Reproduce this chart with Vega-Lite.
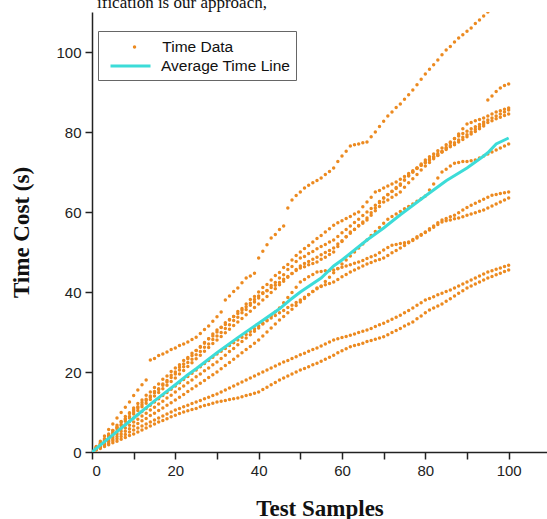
{
"$schema": "https://vega.github.io/schema/vega-lite/v6.json",
"autosize": {"type": "none"},
"width": 455,
"height": 440,
"padding": {"left": 92, "top": 12, "right": 0, "bottom": 67},
"background": "white",
"title": {"text": "ification is our approach,", "anchor": "start", "frame": "group", "orient": "top", "offset": 4, "dx": 5, "dy": 17, "font": "Liberation Serif", "fontSize": 17, "fontWeight": "normal", "color": "#111", "baseline": "alphabetic"},
"config": {
  "view": {"stroke": null},
  "axis": {"grid": false, "domainColor": "#222", "domainWidth": 1.5, "tickColor": "#222", "tickWidth": 1.5, "tickSize": 7, "labelFont": "Liberation Sans", "labelFontSize": 15, "labelColor": "#222", "labelPadding": 4, "titleFont": "Liberation Serif", "titleFontSize": 23, "titleFontWeight": "bold", "titleColor": "#111"}
},
"datasets": {
"pts": [
{"x":1,"y":1.4},{"x":2,"y":2.7},{"x":3,"y":4.0},{"x":4,"y":5.6},{"x":5,"y":7.0},{"x":6,"y":8.5},{"x":7,"y":9.9},{"x":8,"y":11.2},{"x":9,"y":12.5},{"x":10,"y":14.1},
{"x":11,"y":15.5},{"x":12,"y":16.8},{"x":13,"y":18.0},{"x":14,"y":23.0},{"x":15,"y":23.4},{"x":16,"y":24.1},{"x":17,"y":24.5},{"x":18,"y":25.0},{"x":19,"y":25.6},{"x":20,"y":26.0},
{"x":21,"y":26.6},{"x":22,"y":27.0},{"x":23,"y":27.5},{"x":24,"y":28.1},{"x":25,"y":28.7},{"x":26,"y":29.6},{"x":27,"y":30.6},{"x":28,"y":31.5},{"x":29,"y":32.7},{"x":30,"y":33.8},
{"x":31,"y":35.0},{"x":32,"y":38.0},{"x":33,"y":39.0},{"x":34,"y":40.1},{"x":35,"y":41.0},{"x":36,"y":42.3},{"x":37,"y":43.5},{"x":38,"y":44.0},{"x":39,"y":44.7},{"x":40,"y":48.5},
{"x":41,"y":50.2},{"x":42,"y":51.8},{"x":43,"y":53.5},{"x":44,"y":54.4},{"x":45,"y":55.6},{"x":46,"y":56.5},{"x":47,"y":61.0},{"x":48,"y":63.0},{"x":49,"y":64.1},{"x":50,"y":65.0},
{"x":51,"y":66.0},{"x":52,"y":66.7},{"x":53,"y":67.3},{"x":54,"y":67.9},{"x":55,"y":68.5},{"x":56,"y":69.4},{"x":57,"y":70.1},{"x":58,"y":71.0},{"x":59,"y":72.6},{"x":60,"y":74.0},
{"x":61,"y":75.2},{"x":62,"y":76.5},{"x":63,"y":76.8},{"x":64,"y":77.0},{"x":65,"y":77.3},{"x":66,"y":77.5},{"x":67,"y":78.8},{"x":68,"y":80.0},{"x":69,"y":81.4},{"x":70,"y":82.7},
{"x":71,"y":84.0},{"x":72,"y":85.0},{"x":73,"y":86.1},{"x":74,"y":87.0},{"x":75,"y":88.2},{"x":76,"y":89.3},{"x":77,"y":90.5},{"x":78,"y":91.8},{"x":79,"y":93.2},{"x":80,"y":94.5},
{"x":81,"y":95.7},{"x":82,"y":96.8},{"x":83,"y":98.0},{"x":84,"y":99.3},{"x":85,"y":100.5},{"x":86,"y":101.4},{"x":87,"y":102.5},{"x":88,"y":103.5},{"x":89,"y":104.3},{"x":90,"y":105.2},
{"x":91,"y":106.0},{"x":92,"y":107.1},{"x":93,"y":108.0},{"x":94,"y":109.0},{"x":95,"y":110.0},{"x":96,"y":111.1},{"x":97,"y":112.0},{"x":98,"y":113.1},{"x":99,"y":114.0},{"x":100,"y":115.0},

{"x":1,"y":1.2},{"x":2,"y":2.0},{"x":3,"y":3.3},{"x":4,"y":4.1},{"x":5,"y":5.4},{"x":6,"y":6.2},{"x":7,"y":7.5},{"x":8,"y":8.3},{"x":9,"y":9.6},{"x":10,"y":10.5},
{"x":11,"y":11.3},{"x":12,"y":12.4},{"x":13,"y":13.2},{"x":14,"y":14.0},{"x":15,"y":15.1},{"x":16,"y":15.8},{"x":17,"y":17.0},{"x":18,"y":17.9},{"x":19,"y":19.2},{"x":20,"y":20.0},
{"x":21,"y":21.2},{"x":22,"y":22.0},{"x":23,"y":23.3},{"x":24,"y":24.1},{"x":25,"y":25.4},{"x":26,"y":26.2},{"x":27,"y":27.4},{"x":28,"y":28.3},{"x":29,"y":29.5},{"x":30,"y":30.5},
{"x":31,"y":31.2},{"x":32,"y":32.3},{"x":33,"y":33.0},{"x":34,"y":33.9},{"x":35,"y":34.6},{"x":36,"y":35.5},{"x":37,"y":36.3},{"x":38,"y":37.2},{"x":39,"y":38.1},{"x":40,"y":39.0},
{"x":41,"y":39.8},{"x":42,"y":40.3},{"x":43,"y":41.1},{"x":44,"y":41.7},{"x":45,"y":42.4},{"x":46,"y":43.2},{"x":47,"y":43.9},{"x":48,"y":44.6},{"x":49,"y":45.4},{"x":50,"y":46.0},
{"x":51,"y":46.3},{"x":52,"y":46.8},{"x":53,"y":47.1},{"x":54,"y":47.5},{"x":55,"y":48.2},{"x":56,"y":48.7},{"x":57,"y":49.4},{"x":58,"y":50.0},{"x":59,"y":51.4},{"x":60,"y":52.6},
{"x":61,"y":53.8},{"x":62,"y":55.0},{"x":63,"y":55.6},{"x":64,"y":56.5},{"x":65,"y":57.2},{"x":66,"y":58.0},{"x":67,"y":59.2},{"x":68,"y":60.3},{"x":69,"y":61.4},{"x":70,"y":62.5},
{"x":71,"y":63.0},{"x":72,"y":63.7},{"x":73,"y":64.3},{"x":74,"y":65.0},{"x":75,"y":66.2},{"x":76,"y":67.3},{"x":77,"y":68.3},{"x":78,"y":69.4},{"x":79,"y":70.5},{"x":80,"y":71.5},
{"x":81,"y":72.4},{"x":82,"y":73.3},{"x":83,"y":74.1},{"x":84,"y":75.0},{"x":85,"y":75.6},{"x":86,"y":76.3},{"x":87,"y":76.8},{"x":88,"y":77.5},{"x":89,"y":78.1},{"x":90,"y":78.8},
{"x":91,"y":79.5},{"x":92,"y":80.1},{"x":93,"y":80.8},{"x":94,"y":81.5},{"x":95,"y":88.0},{"x":96,"y":89.0},{"x":97,"y":90.1},{"x":98,"y":91.0},{"x":99,"y":91.6},{"x":100,"y":92.0},

{"x":1,"y":1.0},{"x":2,"y":2.3},{"x":3,"y":3.2},{"x":4,"y":4.5},{"x":5,"y":5.4},{"x":6,"y":6.7},{"x":7,"y":7.6},{"x":8,"y":8.9},{"x":9,"y":9.8},{"x":10,"y":11.0},
{"x":11,"y":12.1},{"x":12,"y":13.0},{"x":13,"y":14.2},{"x":14,"y":15.0},{"x":15,"y":16.1},{"x":16,"y":17.0},{"x":17,"y":18.2},{"x":18,"y":19.0},{"x":19,"y":20.1},{"x":20,"y":21.0},
{"x":21,"y":21.8},{"x":22,"y":22.9},{"x":23,"y":23.6},{"x":24,"y":24.7},{"x":25,"y":25.4},{"x":26,"y":26.4},{"x":27,"y":27.2},{"x":28,"y":28.3},{"x":29,"y":29.0},{"x":30,"y":30.0},
{"x":31,"y":31.1},{"x":32,"y":31.9},{"x":33,"y":33.1},{"x":34,"y":33.9},{"x":35,"y":35.1},{"x":36,"y":35.9},{"x":37,"y":37.0},{"x":38,"y":38.1},{"x":39,"y":38.9},{"x":40,"y":40.0},
{"x":41,"y":41.1},{"x":42,"y":41.9},{"x":43,"y":43.0},{"x":44,"y":44.1},{"x":45,"y":44.9},{"x":46,"y":46.1},{"x":47,"y":46.9},{"x":48,"y":48.0},{"x":49,"y":49.1},{"x":50,"y":50.0},
{"x":51,"y":50.9},{"x":52,"y":51.6},{"x":53,"y":52.5},{"x":54,"y":53.4},{"x":55,"y":54.1},{"x":56,"y":55.0},{"x":57,"y":55.8},{"x":58,"y":56.7},{"x":59,"y":57.3},{"x":60,"y":57.8},
{"x":61,"y":58.4},{"x":62,"y":58.9},{"x":63,"y":59.5},{"x":64,"y":60.0},{"x":65,"y":61.3},{"x":66,"y":62.5},{"x":67,"y":63.7},{"x":68,"y":65.0},{"x":69,"y":65.4},{"x":70,"y":66.0},
{"x":71,"y":66.5},{"x":72,"y":67.0},{"x":73,"y":67.5},{"x":74,"y":68.2},{"x":75,"y":68.9},{"x":76,"y":69.6},{"x":77,"y":70.3},{"x":78,"y":71.0},{"x":79,"y":71.7},{"x":80,"y":72.3},
{"x":81,"y":73.0},{"x":82,"y":73.6},{"x":83,"y":74.2},{"x":84,"y":75.0},{"x":85,"y":76.1},{"x":86,"y":77.3},{"x":87,"y":78.4},{"x":88,"y":79.5},{"x":89,"y":80.8},{"x":90,"y":82.0},
{"x":91,"y":82.4},{"x":92,"y":82.8},{"x":93,"y":83.1},{"x":94,"y":83.5},{"x":95,"y":84.0},{"x":96,"y":84.5},{"x":97,"y":85.0},{"x":98,"y":85.3},{"x":99,"y":85.7},{"x":100,"y":86.0},

{"x":1,"y":0.8},{"x":2,"y":1.9},{"x":3,"y":2.9},{"x":4,"y":4.1},{"x":5,"y":4.9},{"x":6,"y":6.1},{"x":7,"y":6.9},{"x":8,"y":8.1},{"x":9,"y":8.9},{"x":10,"y":10.0},
{"x":11,"y":11.0},{"x":12,"y":11.8},{"x":13,"y":12.9},{"x":14,"y":13.7},{"x":15,"y":14.8},{"x":16,"y":15.6},{"x":17,"y":16.7},{"x":18,"y":17.5},{"x":19,"y":18.6},{"x":20,"y":19.5},
{"x":21,"y":20.5},{"x":22,"y":21.3},{"x":23,"y":22.4},{"x":24,"y":23.2},{"x":25,"y":24.3},{"x":26,"y":25.1},{"x":27,"y":26.2},{"x":28,"y":27.0},{"x":29,"y":28.1},{"x":30,"y":29.0},
{"x":31,"y":29.9},{"x":32,"y":30.9},{"x":33,"y":31.8},{"x":34,"y":32.9},{"x":35,"y":33.7},{"x":36,"y":34.8},{"x":37,"y":35.6},{"x":38,"y":36.7},{"x":39,"y":37.5},{"x":40,"y":38.5},
{"x":41,"y":39.6},{"x":42,"y":40.4},{"x":43,"y":41.6},{"x":44,"y":42.4},{"x":45,"y":43.5},{"x":46,"y":44.3},{"x":47,"y":45.6},{"x":48,"y":46.4},{"x":49,"y":47.6},{"x":50,"y":48.5},
{"x":51,"y":48.9},{"x":52,"y":49.6},{"x":53,"y":50.1},{"x":54,"y":50.8},{"x":55,"y":51.4},{"x":56,"y":51.9},{"x":57,"y":52.5},{"x":58,"y":53.0},{"x":59,"y":53.9},{"x":60,"y":54.8},
{"x":61,"y":55.6},{"x":62,"y":56.5},{"x":63,"y":57.4},{"x":64,"y":58.2},{"x":65,"y":59.1},{"x":66,"y":60.0},{"x":67,"y":60.9},{"x":68,"y":61.7},{"x":69,"y":62.6},{"x":70,"y":63.5},
{"x":71,"y":64.4},{"x":72,"y":65.2},{"x":73,"y":66.1},{"x":74,"y":67.0},{"x":75,"y":68.0},{"x":76,"y":69.0},{"x":77,"y":70.0},{"x":78,"y":71.0},{"x":79,"y":72.0},{"x":80,"y":73.0},
{"x":81,"y":73.8},{"x":82,"y":74.5},{"x":83,"y":75.3},{"x":84,"y":76.0},{"x":85,"y":76.8},{"x":86,"y":77.5},{"x":87,"y":78.3},{"x":88,"y":79.0},{"x":89,"y":79.6},{"x":90,"y":80.2},
{"x":91,"y":80.8},{"x":92,"y":81.3},{"x":93,"y":81.9},{"x":94,"y":82.5},{"x":95,"y":83.0},{"x":96,"y":83.5},{"x":97,"y":84.0},{"x":98,"y":84.5},{"x":99,"y":85.0},{"x":100,"y":85.5},

{"x":1,"y":0.9},{"x":2,"y":2.0},{"x":3,"y":2.8},{"x":4,"y":3.9},{"x":5,"y":4.7},{"x":6,"y":5.8},{"x":7,"y":6.6},{"x":8,"y":7.7},{"x":9,"y":8.5},{"x":10,"y":9.5},
{"x":11,"y":10.4},{"x":12,"y":11.3},{"x":13,"y":12.2},{"x":14,"y":13.1},{"x":15,"y":14.0},{"x":16,"y":14.9},{"x":17,"y":15.8},{"x":18,"y":16.7},{"x":19,"y":17.6},{"x":20,"y":18.5},
{"x":21,"y":19.5},{"x":22,"y":20.4},{"x":23,"y":21.4},{"x":24,"y":22.3},{"x":25,"y":23.3},{"x":26,"y":24.2},{"x":27,"y":25.2},{"x":28,"y":26.1},{"x":29,"y":27.1},{"x":30,"y":28.0},
{"x":31,"y":28.9},{"x":32,"y":29.8},{"x":33,"y":30.7},{"x":34,"y":31.6},{"x":35,"y":32.5},{"x":36,"y":33.4},{"x":37,"y":34.3},{"x":38,"y":35.2},{"x":39,"y":36.1},{"x":40,"y":37.0},
{"x":41,"y":38.0},{"x":42,"y":38.9},{"x":43,"y":39.9},{"x":44,"y":40.8},{"x":45,"y":41.8},{"x":46,"y":42.7},{"x":47,"y":43.7},{"x":48,"y":44.6},{"x":49,"y":45.6},{"x":50,"y":46.5},
{"x":51,"y":47.1},{"x":52,"y":47.6},{"x":53,"y":48.2},{"x":54,"y":48.7},{"x":55,"y":49.3},{"x":56,"y":49.9},{"x":57,"y":50.4},{"x":58,"y":51.0},{"x":59,"y":52.0},{"x":60,"y":52.8},
{"x":61,"y":53.8},{"x":62,"y":54.7},{"x":63,"y":55.7},{"x":64,"y":56.6},{"x":65,"y":57.5},{"x":66,"y":58.5},{"x":67,"y":59.8},{"x":68,"y":61.0},{"x":69,"y":62.3},{"x":70,"y":63.5},
{"x":71,"y":64.3},{"x":72,"y":65.1},{"x":73,"y":65.9},{"x":74,"y":66.7},{"x":75,"y":68.0},{"x":76,"y":69.2},{"x":77,"y":70.0},{"x":78,"y":70.9},{"x":79,"y":71.7},{"x":80,"y":72.5},
{"x":81,"y":73.2},{"x":82,"y":73.9},{"x":83,"y":74.6},{"x":84,"y":75.2},{"x":85,"y":75.9},{"x":86,"y":76.6},{"x":87,"y":77.3},{"x":88,"y":78.0},{"x":89,"y":78.7},{"x":90,"y":79.3},
{"x":91,"y":80.0},{"x":92,"y":80.7},{"x":93,"y":81.3},{"x":94,"y":82.0},{"x":95,"y":82.4},{"x":96,"y":82.8},{"x":97,"y":83.3},{"x":98,"y":83.7},{"x":99,"y":84.1},{"x":100,"y":84.5},

{"x":1,"y":0.8},{"x":2,"y":1.7},{"x":3,"y":2.5},{"x":4,"y":3.4},{"x":5,"y":4.2},{"x":6,"y":5.1},{"x":7,"y":5.9},{"x":8,"y":6.8},{"x":9,"y":7.6},{"x":10,"y":8.5},
{"x":11,"y":9.3},{"x":12,"y":10.1},{"x":13,"y":10.9},{"x":14,"y":11.7},{"x":15,"y":12.5},{"x":16,"y":13.3},{"x":17,"y":14.1},{"x":18,"y":14.9},{"x":19,"y":15.7},{"x":20,"y":16.5},
{"x":21,"y":17.3},{"x":22,"y":18.1},{"x":23,"y":18.9},{"x":24,"y":19.7},{"x":25,"y":20.5},{"x":26,"y":21.3},{"x":27,"y":22.1},{"x":28,"y":22.9},{"x":29,"y":23.7},{"x":30,"y":24.5},
{"x":31,"y":25.2},{"x":32,"y":25.9},{"x":33,"y":26.6},{"x":34,"y":27.3},{"x":35,"y":28.0},{"x":36,"y":28.7},{"x":37,"y":29.4},{"x":38,"y":30.1},{"x":39,"y":30.8},{"x":40,"y":31.5},
{"x":41,"y":32.2},{"x":42,"y":32.8},{"x":43,"y":33.5},{"x":44,"y":34.1},{"x":45,"y":34.8},{"x":46,"y":35.4},{"x":47,"y":36.1},{"x":48,"y":36.7},{"x":49,"y":37.4},{"x":50,"y":38.0},
{"x":51,"y":38.7},{"x":52,"y":39.4},{"x":53,"y":40.1},{"x":54,"y":40.8},{"x":55,"y":41.5},{"x":56,"y":42.6},{"x":57,"y":43.7},{"x":58,"y":44.8},{"x":59,"y":45.9},{"x":60,"y":47.0},
{"x":61,"y":48.0},{"x":62,"y":49.0},{"x":63,"y":50.0},{"x":64,"y":51.0},{"x":65,"y":52.0},{"x":66,"y":53.0},{"x":67,"y":54.1},{"x":68,"y":55.1},{"x":69,"y":56.1},{"x":70,"y":57.2},
{"x":71,"y":58.2},{"x":72,"y":58.9},{"x":73,"y":59.5},{"x":74,"y":60.1},{"x":75,"y":60.8},{"x":76,"y":61.4},{"x":77,"y":62.0},{"x":78,"y":62.7},{"x":79,"y":63.3},{"x":80,"y":64.0},
{"x":81,"y":65.5},{"x":82,"y":67.0},{"x":83,"y":68.5},{"x":84,"y":70.0},{"x":85,"y":70.7},{"x":86,"y":71.5},{"x":87,"y":72.2},{"x":88,"y":72.4},{"x":89,"y":72.6},{"x":90,"y":72.6},
{"x":91,"y":72.8},{"x":92,"y":73.0},{"x":93,"y":73.5},{"x":94,"y":74.0},{"x":95,"y":74.5},{"x":96,"y":75.0},{"x":97,"y":75.5},{"x":98,"y":76.0},{"x":99,"y":76.5},{"x":100,"y":77.0},

{"x":1,"y":0.7},{"x":2,"y":1.5},{"x":3,"y":2.2},{"x":4,"y":3.0},{"x":5,"y":3.7},{"x":6,"y":4.5},{"x":7,"y":5.2},{"x":8,"y":6.0},{"x":9,"y":6.7},{"x":10,"y":7.5},
{"x":11,"y":8.2},{"x":12,"y":9.0},{"x":13,"y":9.7},{"x":14,"y":10.5},{"x":15,"y":11.2},{"x":16,"y":12.0},{"x":17,"y":12.7},{"x":18,"y":13.5},{"x":19,"y":14.2},{"x":20,"y":15.0},
{"x":21,"y":15.8},{"x":22,"y":16.5},{"x":23,"y":17.3},{"x":24,"y":18.0},{"x":25,"y":18.8},{"x":26,"y":19.5},{"x":27,"y":20.3},{"x":28,"y":21.0},{"x":29,"y":21.8},{"x":30,"y":22.5},
{"x":31,"y":23.4},{"x":32,"y":24.2},{"x":33,"y":25.1},{"x":34,"y":25.9},{"x":35,"y":26.8},{"x":36,"y":27.6},{"x":37,"y":28.5},{"x":38,"y":29.3},{"x":39,"y":30.2},{"x":40,"y":31.0},
{"x":41,"y":32.0},{"x":42,"y":33.0},{"x":43,"y":34.0},{"x":44,"y":35.0},{"x":45,"y":36.0},{"x":46,"y":37.3},{"x":47,"y":38.6},{"x":48,"y":39.9},{"x":49,"y":41.2},{"x":50,"y":42.5},
{"x":51,"y":43.1},{"x":52,"y":43.8},{"x":53,"y":44.4},{"x":54,"y":45.0},{"x":55,"y":45.1},{"x":56,"y":45.3},{"x":57,"y":45.4},{"x":58,"y":45.5},{"x":59,"y":45.8},{"x":60,"y":46.2},
{"x":61,"y":46.5},{"x":62,"y":46.8},{"x":63,"y":47.2},{"x":64,"y":47.5},{"x":65,"y":47.9},{"x":66,"y":48.4},{"x":67,"y":48.8},{"x":68,"y":49.2},{"x":69,"y":49.8},{"x":70,"y":50.5},
{"x":71,"y":51.1},{"x":72,"y":51.7},{"x":73,"y":51.9},{"x":74,"y":52.1},{"x":75,"y":52.3},{"x":76,"y":52.5},{"x":77,"y":53.1},{"x":78,"y":53.8},{"x":79,"y":54.4},{"x":80,"y":55.0},
{"x":81,"y":55.8},{"x":82,"y":56.5},{"x":83,"y":57.3},{"x":84,"y":58.0},{"x":85,"y":58.4},{"x":86,"y":58.8},{"x":87,"y":59.2},{"x":88,"y":59.8},{"x":89,"y":60.5},{"x":90,"y":61.1},
{"x":91,"y":61.7},{"x":92,"y":62.2},{"x":93,"y":62.7},{"x":94,"y":63.2},{"x":95,"y":63.7},{"x":96,"y":64.2},{"x":97,"y":64.4},{"x":98,"y":64.6},{"x":99,"y":64.8},{"x":100,"y":65.0},

{"x":1,"y":0.6},{"x":2,"y":1.3},{"x":3,"y":1.9},{"x":4,"y":2.6},{"x":5,"y":3.2},{"x":6,"y":3.9},{"x":7,"y":4.5},{"x":8,"y":5.2},{"x":9,"y":5.8},{"x":10,"y":6.5},
{"x":11,"y":7.1},{"x":12,"y":7.8},{"x":13,"y":8.4},{"x":14,"y":9.1},{"x":15,"y":9.7},{"x":16,"y":10.4},{"x":17,"y":11.0},{"x":18,"y":11.7},{"x":19,"y":12.3},{"x":20,"y":13.0},
{"x":21,"y":13.7},{"x":22,"y":14.4},{"x":23,"y":15.1},{"x":24,"y":15.8},{"x":25,"y":16.5},{"x":26,"y":17.2},{"x":27,"y":17.9},{"x":28,"y":18.6},{"x":29,"y":19.3},{"x":30,"y":20.0},
{"x":31,"y":20.8},{"x":32,"y":21.6},{"x":33,"y":22.4},{"x":34,"y":23.2},{"x":35,"y":24.0},{"x":36,"y":24.8},{"x":37,"y":25.6},{"x":38,"y":26.4},{"x":39,"y":27.2},{"x":40,"y":28.0},
{"x":41,"y":29.0},{"x":42,"y":30.0},{"x":43,"y":31.0},{"x":44,"y":32.0},{"x":45,"y":33.0},{"x":46,"y":33.9},{"x":47,"y":34.8},{"x":48,"y":35.7},{"x":49,"y":36.6},{"x":50,"y":37.5},
{"x":51,"y":38.4},{"x":52,"y":39.3},{"x":53,"y":40.1},{"x":54,"y":41.0},{"x":55,"y":41.4},{"x":56,"y":41.8},{"x":57,"y":42.1},{"x":58,"y":42.5},{"x":59,"y":43.1},{"x":60,"y":43.8},
{"x":61,"y":44.4},{"x":62,"y":45.0},{"x":63,"y":45.5},{"x":64,"y":46.0},{"x":65,"y":46.5},{"x":66,"y":47.0},{"x":67,"y":47.4},{"x":68,"y":47.8},{"x":69,"y":48.1},{"x":70,"y":48.5},
{"x":71,"y":49.1},{"x":72,"y":49.8},{"x":73,"y":50.4},{"x":74,"y":51.0},{"x":75,"y":51.6},{"x":76,"y":52.3},{"x":77,"y":52.9},{"x":78,"y":53.5},{"x":79,"y":54.2},{"x":80,"y":54.9},
{"x":81,"y":55.5},{"x":82,"y":56.2},{"x":83,"y":56.9},{"x":84,"y":57.5},{"x":85,"y":57.8},{"x":86,"y":58.0},{"x":87,"y":58.3},{"x":88,"y":58.5},{"x":89,"y":58.8},{"x":90,"y":59.2},
{"x":91,"y":59.5},{"x":92,"y":59.8},{"x":93,"y":60.2},{"x":94,"y":60.5},{"x":95,"y":61.0},{"x":96,"y":61.5},{"x":97,"y":62.0},{"x":98,"y":62.5},{"x":99,"y":63.0},{"x":100,"y":63.5},

{"x":1,"y":0.6},{"x":2,"y":1.1},{"x":3,"y":1.7},{"x":4,"y":2.2},{"x":5,"y":2.8},{"x":6,"y":3.3},{"x":7,"y":3.9},{"x":8,"y":4.4},{"x":9,"y":5.0},{"x":10,"y":5.5},
{"x":11,"y":6.0},{"x":12,"y":6.5},{"x":13,"y":7.0},{"x":14,"y":7.5},{"x":15,"y":8.0},{"x":16,"y":8.5},{"x":17,"y":9.0},{"x":18,"y":9.5},{"x":19,"y":10.0},{"x":20,"y":10.5},
{"x":21,"y":10.9},{"x":22,"y":11.3},{"x":23,"y":11.7},{"x":24,"y":12.1},{"x":25,"y":12.5},{"x":26,"y":12.9},{"x":27,"y":13.3},{"x":28,"y":13.7},{"x":29,"y":14.1},{"x":30,"y":14.5},
{"x":31,"y":15.0},{"x":32,"y":15.5},{"x":33,"y":16.0},{"x":34,"y":16.5},{"x":35,"y":17.0},{"x":36,"y":17.5},{"x":37,"y":18.0},{"x":38,"y":18.5},{"x":39,"y":19.0},{"x":40,"y":19.5},
{"x":41,"y":20.0},{"x":42,"y":20.5},{"x":43,"y":21.0},{"x":44,"y":21.5},{"x":45,"y":22.0},{"x":46,"y":22.5},{"x":47,"y":22.9},{"x":48,"y":23.4},{"x":49,"y":23.8},{"x":50,"y":24.3},
{"x":51,"y":24.7},{"x":52,"y":25.2},{"x":53,"y":25.6},{"x":54,"y":26.0},{"x":55,"y":26.5},{"x":56,"y":27.0},{"x":57,"y":27.5},{"x":58,"y":28.0},{"x":59,"y":28.3},{"x":60,"y":28.6},
{"x":61,"y":28.9},{"x":62,"y":29.2},{"x":63,"y":29.5},{"x":64,"y":29.9},{"x":65,"y":30.2},{"x":66,"y":30.5},{"x":67,"y":30.9},{"x":68,"y":31.4},{"x":69,"y":31.8},{"x":70,"y":32.2},
{"x":71,"y":32.7},{"x":72,"y":33.2},{"x":73,"y":33.7},{"x":74,"y":34.2},{"x":75,"y":34.8},{"x":76,"y":35.4},{"x":77,"y":36.0},{"x":78,"y":36.7},{"x":79,"y":37.3},{"x":80,"y":38.0},
{"x":81,"y":38.4},{"x":82,"y":38.8},{"x":83,"y":39.3},{"x":84,"y":39.7},{"x":85,"y":40.1},{"x":86,"y":40.5},{"x":87,"y":41.0},{"x":88,"y":41.5},{"x":89,"y":42.0},{"x":90,"y":42.5},
{"x":91,"y":43.0},{"x":92,"y":43.5},{"x":93,"y":44.0},{"x":94,"y":44.5},{"x":95,"y":45.0},{"x":96,"y":45.3},{"x":97,"y":45.7},{"x":98,"y":46.0},{"x":99,"y":46.4},{"x":100,"y":46.7},

{"x":1,"y":0.5},{"x":2,"y":0.9},{"x":3,"y":1.4},{"x":4,"y":1.8},{"x":5,"y":2.3},{"x":6,"y":2.7},{"x":7,"y":3.2},{"x":8,"y":3.6},{"x":9,"y":4.1},{"x":10,"y":4.5},
{"x":11,"y":5.0},{"x":12,"y":5.5},{"x":13,"y":6.0},{"x":14,"y":6.5},{"x":15,"y":7.0},{"x":16,"y":7.5},{"x":17,"y":7.9},{"x":18,"y":8.3},{"x":19,"y":8.8},{"x":20,"y":9.2},
{"x":21,"y":9.6},{"x":22,"y":10.0},{"x":23,"y":10.3},{"x":24,"y":10.6},{"x":25,"y":10.9},{"x":26,"y":11.3},{"x":27,"y":11.6},{"x":28,"y":11.9},{"x":29,"y":12.2},{"x":30,"y":12.5},
{"x":31,"y":12.7},{"x":32,"y":12.9},{"x":33,"y":13.1},{"x":34,"y":13.3},{"x":35,"y":13.5},{"x":36,"y":13.8},{"x":37,"y":14.1},{"x":38,"y":14.4},{"x":39,"y":14.7},{"x":40,"y":15.0},
{"x":41,"y":15.6},{"x":42,"y":16.2},{"x":43,"y":16.8},{"x":44,"y":17.4},{"x":45,"y":18.0},{"x":46,"y":18.5},{"x":47,"y":19.0},{"x":48,"y":19.5},{"x":49,"y":20.0},{"x":50,"y":20.5},
{"x":51,"y":20.9},{"x":52,"y":21.3},{"x":53,"y":21.8},{"x":54,"y":22.2},{"x":55,"y":22.7},{"x":56,"y":23.2},{"x":57,"y":23.7},{"x":58,"y":24.2},{"x":59,"y":24.8},{"x":60,"y":25.3},
{"x":61,"y":25.8},{"x":62,"y":26.3},{"x":63,"y":26.6},{"x":64,"y":26.9},{"x":65,"y":27.2},{"x":66,"y":27.6},{"x":67,"y":27.9},{"x":68,"y":28.2},{"x":69,"y":28.5},{"x":70,"y":28.8},
{"x":71,"y":29.3},{"x":72,"y":29.9},{"x":73,"y":30.4},{"x":74,"y":30.9},{"x":75,"y":31.5},{"x":76,"y":32.0},{"x":77,"y":32.5},{"x":78,"y":33.3},{"x":79,"y":34.0},{"x":80,"y":34.8},
{"x":81,"y":35.5},{"x":82,"y":36.0},{"x":83,"y":36.5},{"x":84,"y":37.0},{"x":85,"y":37.7},{"x":86,"y":38.3},{"x":87,"y":39.0},{"x":88,"y":39.7},{"x":89,"y":40.3},{"x":90,"y":41.0},
{"x":91,"y":41.5},{"x":92,"y":42.0},{"x":93,"y":42.5},{"x":94,"y":43.0},{"x":95,"y":43.5},{"x":96,"y":43.9},{"x":97,"y":44.3},{"x":98,"y":44.7},{"x":99,"y":45.1},{"x":100,"y":45.5}
],
"avg": [
{"x":0,"y":0},{"x":5,"y":4.3},{"x":10,"y":8.5},{"x":15,"y":12.8},{"x":20,"y":16.8},{"x":23,"y":19.3},{"x":25,"y":20.8},{"x":30,"y":24.8},{"x":35,"y":28.6},{"x":40,"y":32.2},
{"x":45,"y":35.8},{"x":47.5,"y":38},{"x":50,"y":40},{"x":55,"y":43.5},{"x":58,"y":46.5},{"x":60,"y":48},{"x":66,"y":53},{"x":70,"y":56},{"x":74,"y":59.3},{"x":80,"y":64},
{"x":85,"y":67.8},{"x":90,"y":71},{"x":94,"y":74},{"x":95,"y":74.8},{"x":97,"y":77},{"x":100,"y":78.5}
]
},
"layer": [
 {
  "data": {"name": "pts"},
  "mark": {"type": "point", "filled": true, "size": 12, "opacity": 1, "clip": true},
  "encoding": {
   "x": {"field": "x", "type": "quantitative", "scale": {"domain": [0, 109.2], "nice": false, "zero": false},
     "axis": {"values": [0,10,20,30,40,50,60,70,80,90,100], "labelExpr": "datum.value % 20 === 0 ? datum.label : ''", "title": "Test Samples", "titlePadding": 19}},
   "y": {"field": "y", "type": "quantitative", "scale": {"domain": [0, 110], "nice": false, "zero": false},
     "axis": {"values": [0,10,20,30,40,50,60,70,80,90,100,110], "labelExpr": "datum.value % 20 === 0 ? datum.label : ''", "title": "Time Cost (s)", "titlePadding": 22}},
   "fill": {"datum": "Time Data", "type": "nominal",
     "scale": {"domain": ["Time Data"], "range": ["#EC8A20"]},
     "legend": {"title": null, "orient": "none", "legendX": 34.8, "legendY": 26, "direction": "vertical", "zindex": 3,
       "symbolType": "circle", "symbolSize": 12, "symbolStrokeWidth": 0, "clipHeight": 18,
       "labelFont": "Liberation Sans", "labelFontSize": 15.5, "labelColor": "#111", "labelOffset": 20, "padding": 0,
       "strokeColor": null, "fillColor": null}
   }
  }
 },
 {
  "data": {"name": "avg"},
  "mark": {"type": "line", "strokeWidth": 3, "clip": true},
  "encoding": {
   "x": {"field": "x", "type": "quantitative"},
   "y": {"field": "y", "type": "quantitative"},
   "stroke": {"datum": "Average Time Line", "type": "nominal",
     "scale": {"domain": ["Average Time Line"], "range": ["#3CDCD8"]},
     "legend": {"title": "\u00a0\u00a0\u00a0\u00a0\u00a0\u00a0\u00a0\u00a0\u00a0\u00a0\u00a0\u00a0\u00a0\u00a0\u00a0\u00a0\u00a0\u00a0\u00a0\u00a0\u00a0\u00a0\u00a0\u00a0\u00a0\u00a0\u00a0\u00a0\u00a0\u00a0\u00a0\u00a0\u00a0\u00a0\u00a0\u00a0",
       "titleFont": "Liberation Sans", "titleFontSize": 20, "titlePadding": 4, "titleLimit": 400,
       "orient": "none", "legendX": 6, "legendY": 19, "direction": "vertical", "zindex": 1,
       "symbolType": "stroke", "symbolSize": 1600, "symbolStrokeWidth": 3, "symbolOffset": 6, "clipHeight": 12,
       "labelFont": "Liberation Sans", "labelFontSize": 15.5, "labelColor": "#111", "labelOffset": 9, "padding": 5,
       "strokeColor": "#666", "fillColor": null}
   }
  }
 }
]
}
